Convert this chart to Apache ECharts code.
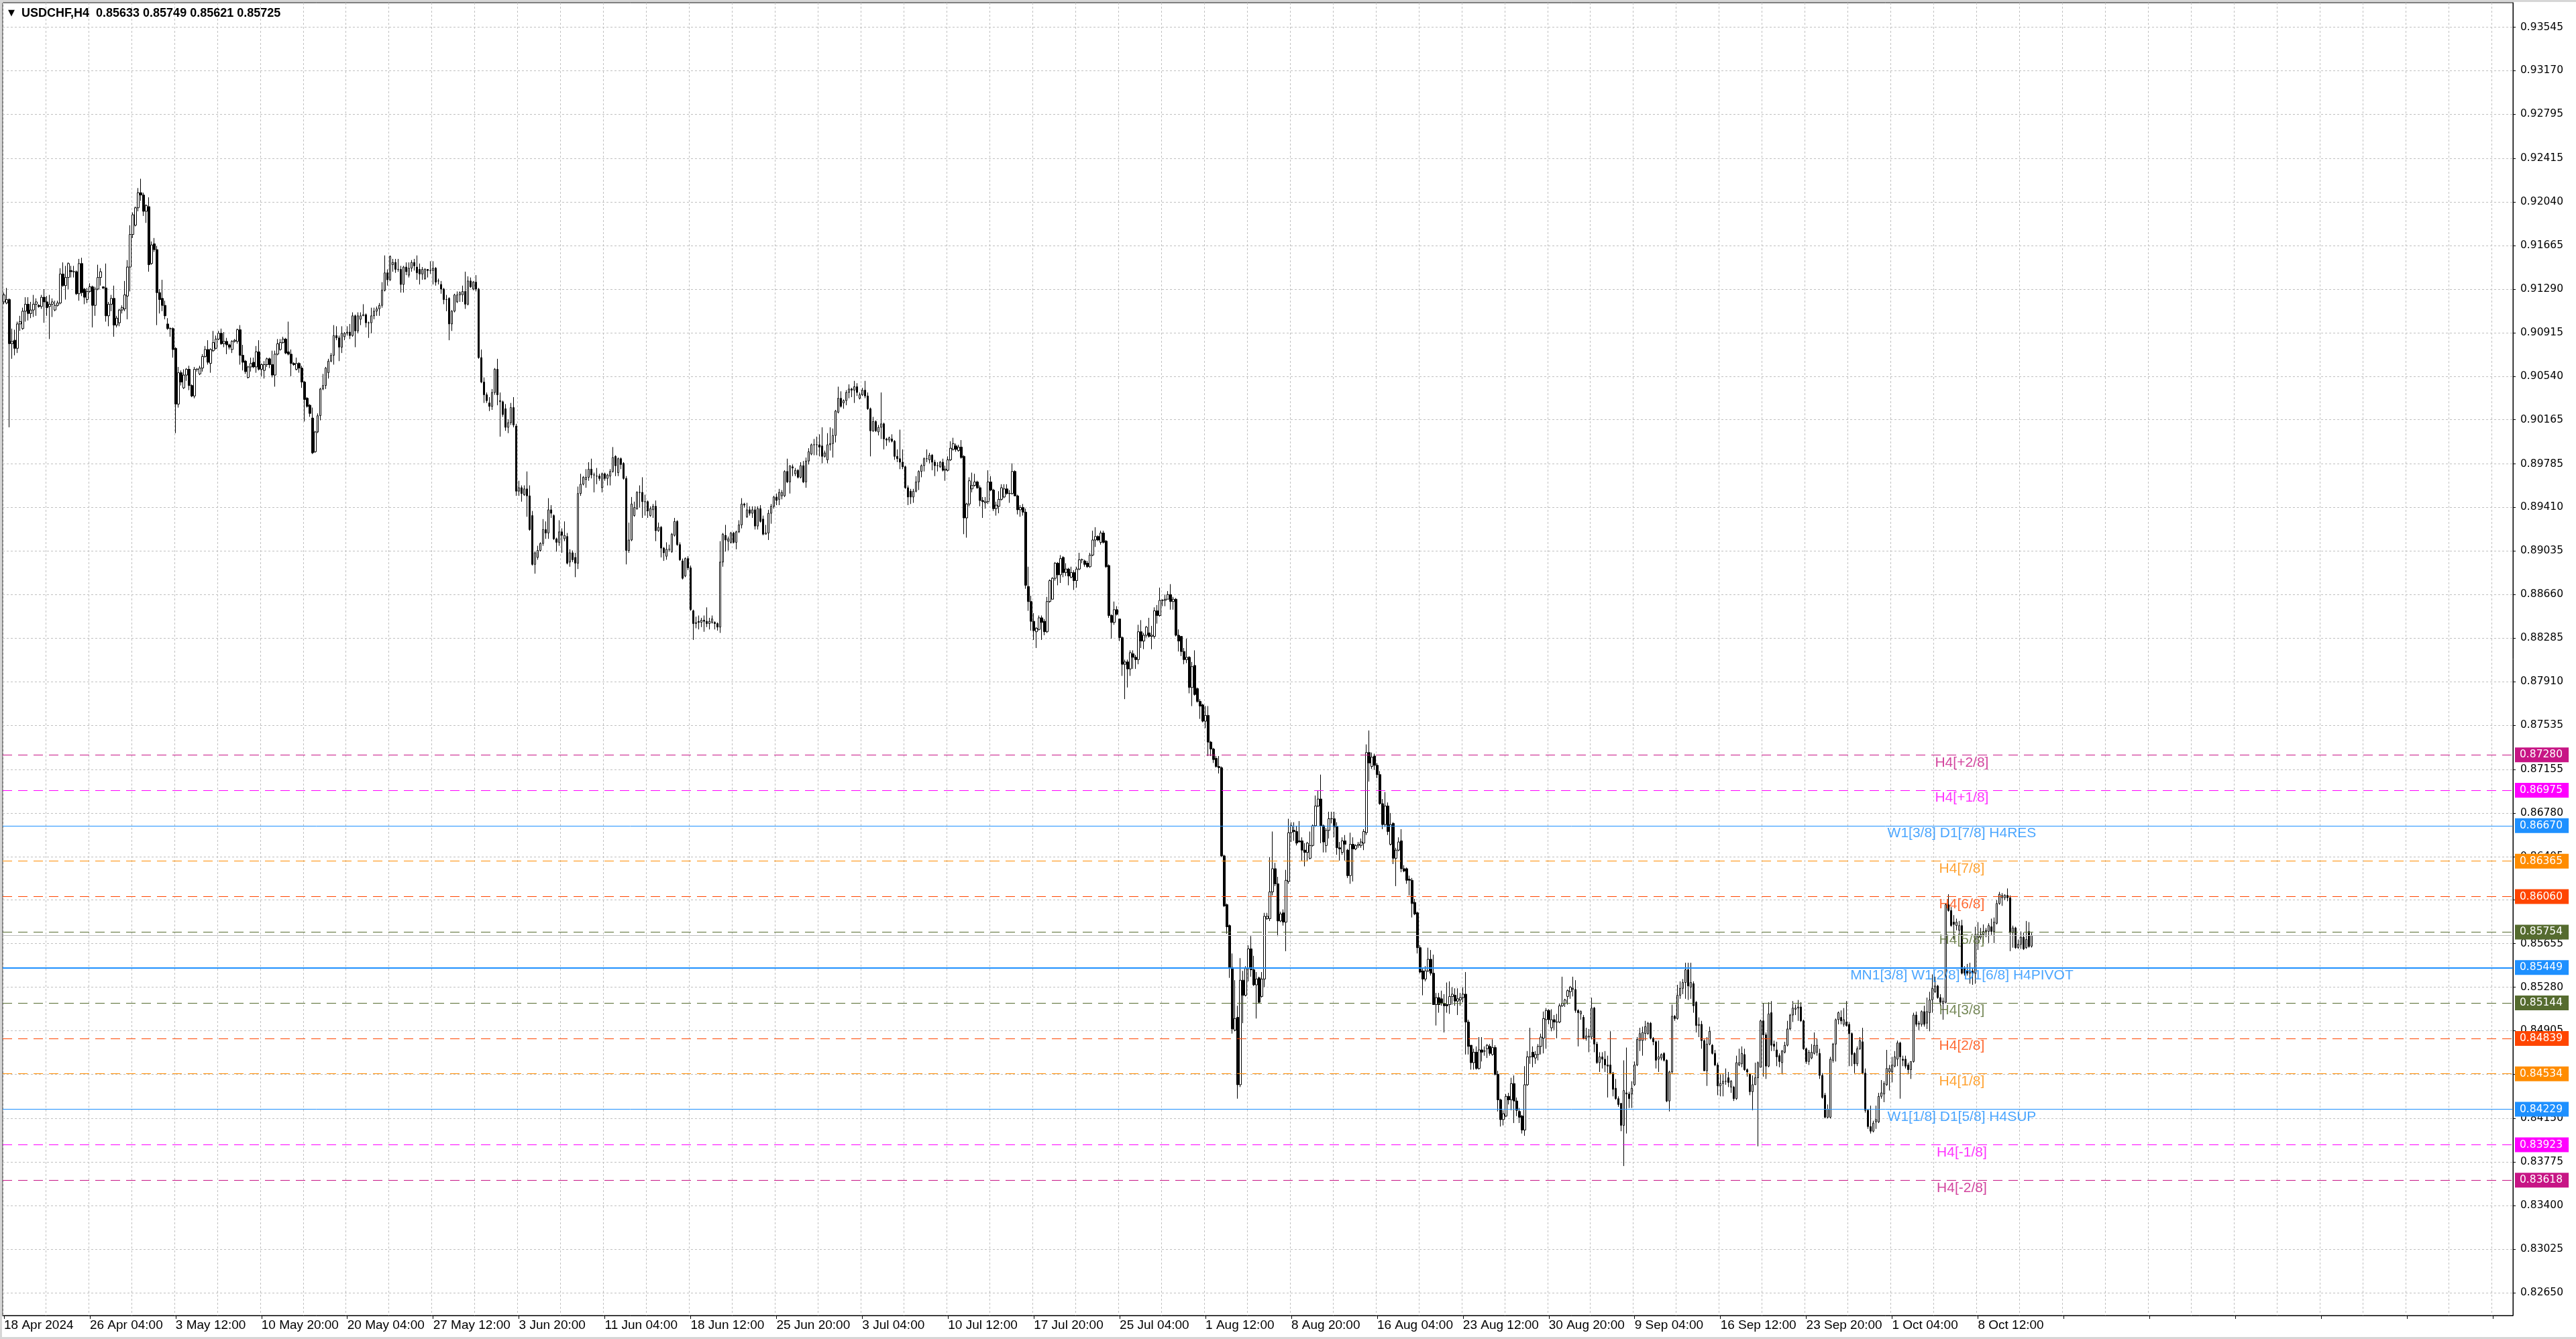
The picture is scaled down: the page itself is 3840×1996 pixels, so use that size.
<!DOCTYPE html>
<html>
<head>
<meta charset="utf-8">
<title>USDCHF,H4</title>
<script src="https://cdn.jsdelivr.net/npm/echarts@6/dist/echarts.min.js"></script>
<style>
  html, body { margin: 0; padding: 0; background: #d6d6d6; overflow: hidden; }
  #main { position: absolute; left: 3px; top: 3px; width: 3837px; height: 1990px; background: #fff; }
</style>
</head>
<body>
<div id="main"></div>
<script>
// USDCHF H4 bars, 18 Apr 2024 20:00 .. 11 Oct 2024 20:00
// each row: [open, high, low, close] in pips (x 0.0001)
var barsA = [
[9118,9126,9116,9124],[9117,9130,9116,9120],[9120,9121,9010,9082],[9082,9095,9069,9084],[9085,9094,9072,9078],
[9078,9101,9074,9099],[9099,9106,9093,9101],[9095,9113,9094,9110],[9110,9122,9101,9116],[9116,9122,9102,9108],
[9108,9118,9104,9111],[9111,9124,9105,9116],[9116,9121,9106,9118],[9115,9116,9113,9114],[9114,9124,9112,9122],
[9122,9129,9100,9118],[9118,9123,9106,9113],[9114,9124,9086,9116],[9116,9121,9105,9118],[9111,9119,9110,9115],
[9115,9119,9114,9117],[9117,9147,9116,9142],[9142,9152,9131,9132],[9132,9149,9120,9139],[9139,9152,9129,9151],
[9145,9149,9139,9144],[9144,9149,9139,9144],[9144,9145,9124,9125],[9125,9155,9119,9151],[9151,9156,9123,9126],
[9129,9130,9116,9122],[9120,9130,9117,9127],[9127,9134,9126,9131],[9131,9132,9096,9115],[9115,9131,9106,9129],
[9129,9150,9128,9139],[9139,9147,9132,9144],[9131,9131,9129,9130],[9130,9151,9101,9106],[9106,9118,9097,9116],
[9116,9124,9110,9121],[9121,9132,9088,9098],[9098,9106,9096,9104],[9100,9112,9097,9111],[9111,9115,9108,9113],
[9112,9136,9110,9124],[9123,9154,9103,9148],[9148,9184,9127,9176],[9176,9195,9173,9193],[9184,9200,9183,9199],
[9199,9216,9196,9212],[9212,9224,9205,9210],[9210,9212,9192,9196],[9196,9202,9186,9201],[9200,9208,9144,9150],
[9151,9170,9150,9167],[9168,9173,9161,9163],[9163,9166,9098,9126],[9126,9129,9108,9120],[9121,9137,9110,9115],
[9115,9119,9103,9106],[9099,9104,9094,9095],[9095,9096,9088,9095],[9095,9096,9070,9077],[9078,9079,9005,9030],
[9030,9062,9027,9057],[9057,9059,9046,9049],[9044,9060,9043,9055],[9055,9061,9050,9060],[9060,9063,9042,9046],
[9046,9047,9036,9037],[9037,9062,9035,9060],[9060,9061,9058,9060],[9056,9063,9055,9061],[9061,9073,9058,9071],
[9071,9080,9070,9077],[9077,9085,9064,9066],[9065,9078,9057,9077],[9076,9093,9075,9083],[9078,9089,9077,9086],
[9086,9093,9085,9091],[9091,9095,9081,9082],[9082,9092,9079,9084],[9084,9087,9073,9081],[9081,9082,9077,9079],
[9077,9085,9074,9084],[9084,9086,9083,9085],[9084,9095,9082,9094],[9094,9098,9064,9072],[9072,9081,9059,9066],
[9067,9068,9056,9058],[9053,9063,9052,9062],[9062,9070,9058,9065],[9066,9070,9061,9062],[9062,9080,9057,9075],
[9075,9085,9059,9060],[9060,9065,9054,9064],[9059,9067,9052,9064],[9064,9070,9062,9069],[9069,9070,9061,9064],
[9064,9076,9053,9055],[9055,9076,9045,9073],[9073,9086,9072,9082],[9077,9086,9076,9083],[9083,9088,9082,9086],
[9086,9087,9073,9074],[9075,9101,9072,9073],[9073,9077,9054,9065],[9065,9066,9063,9064],[9060,9070,9059,9065],
[9065,9066,9057,9061],[9061,9063,9044,9049],[9049,9050,9015,9034],[9035,9036,9027,9028],[9029,9030,9019,9022],
[9018,9027,8987,8988],[8989,9007,8988,9006],[9006,9022,9005,9020],[9020,9044,9016,9043],[9043,9056,9042,9046],
[9046,9062,9043,9061],[9057,9069,9052,9067],[9067,9074,9066,9072],[9072,9098,9064,9089],[9089,9097,9085,9087],
[9087,9089,9067,9079],[9079,9097,9074,9091],[9088,9092,9085,9091],[9091,9097,9089,9092]
];
var barsB = [
[9092,9099,9086,9089],[9089,9109,9088,9106],[9106,9107,9079,9093],[9093,9109,9091,9106],[9103,9109,9098,9106],
[9106,9116,9106,9107],[9107,9108,9096,9100],[9100,9101,9087,9100],[9100,9113,9091,9106],[9106,9113,9103,9110],
[9110,9114,9106,9112],[9112,9117,9106,9115],[9115,9135,9113,9128],[9128,9158,9127,9143],[9143,9146,9132,9137],
[9137,9158,9136,9157],[9150,9155,9144,9152],[9152,9155,9143,9146],[9146,9155,9144,9146],[9146,9149,9126,9133],
[9133,9149,9126,9148],[9148,9152,9141,9144],[9141,9152,9139,9147],[9147,9154,9144,9152],[9152,9155,9145,9149],
[9148,9158,9137,9143],[9146,9151,9133,9142],[9142,9148,9137,9146],[9138,9147,9137,9146],[9146,9146,9139,9145],
[9145,9153,9142,9145],[9145,9153,9133,9147],[9147,9148,9132,9135],[9136,9138,9133,9136],[9133,9136,9125,9129],
[9129,9130,9116,9120],[9120,9124,9110,9120],[9121,9122,9085,9099],[9099,9111,9093,9110],[9110,9125,9109,9124],
[9118,9127,9117,9124],[9124,9127,9118,9126],[9124,9132,9118,9127],[9127,9144,9112,9116],[9116,9140,9115,9136],
[9136,9139,9130,9131],[9129,9136,9128,9135],[9135,9141,9127,9129],[9129,9130,9069,9070],[9070,9077,9048,9049],
[9049,9053,9031,9038],[9038,9040,9031,9033],[9031,9036,9024,9028],[9028,9043,9025,9040],[9040,9061,9038,9060],
[9060,9069,9029,9038],[9032,9040,9002,9033],[9032,9033,9019,9021],[9026,9030,9007,9010],[9010,9017,9005,9014],
[9014,9031,9012,9027],[9027,9036,9010,9012],[9011,9013,8951,8955],[8955,8964,8951,8958],[8958,8960,8946,8953],
[8952,8960,8951,8957],[8957,8972,8933,8951],[8951,8960,8921,8922],[8934,8938,8891,8892],[8892,8903,8884,8902],
[8898,8908,8896,8904],[8904,8911,8903,8910],[8910,8931,8908,8922],[8922,8929,8914,8919],[8919,8949,8914,8939],
[8939,8943,8932,8936],[8934,8935,8913,8914],[8914,8915,8903,8911],[8911,8930,8908,8920],[8920,8923,8902,8917],
[8914,8929,8912,8917],[8916,8919,8892,8893],[8894,8905,8890,8902],[8902,8904,8894,8896],[8898,8902,8881,8893],
[8893,8959,8888,8953],[8953,8970,8951,8961],[8961,8968,8960,8967],[8965,8974,8958,8967],[8967,8980,8964,8974],
[8974,8983,8966,8969],[8969,8971,8954,8969],[8968,8975,8961,8968],[8968,8970,8964,8966],[8958,8971,8954,8970],
[8970,8971,8964,8966],[8966,8970,8960,8969],[8968,8974,8960,8972],[8972,8993,8971,8984],[8985,8986,8968,8977],
[8971,8984,8968,8983],[8983,8984,8974,8978],[8979,8980,8965,8966],[8966,8968,8892,8904],[8904,8928,8902,8913],
[8913,8950,8912,8944],[8934,8946,8933,8941],[8940,8955,8939,8954],[8954,8960,8941,8954],[8954,8967,8932,8946],
[8946,8952,8934,8946],[8946,8947,8932,8938],[8934,8942,8933,8940],[8939,8944,8932,8942],[8942,8947,8912,8921],
[8921,8928,8920,8924],[8924,8925,8898,8906],[8906,8907,8895,8902],[8899,8911,8896,8905],[8905,8909,8903,8905],
[8903,8919,8902,8918],[8917,8932,8916,8929],[8929,8930,8908,8909],[8909,8911,8895,8896],[8895,8897,8879,8880]
];
var barsC = [
[8882,8898,8881,8897],[8897,8899,8887,8889],[8889,8891,8852,8853],[8852,8853,8827,8841],[8841,8847,8837,8842],
[8843,8848,8836,8842],[8842,8846,8838,8844],[8844,8848,8834,8843],[8843,8855,8838,8841],[8841,8846,8836,8843],
[8842,8848,8841,8845],[8842,8843,8836,8841],[8841,8842,8835,8838],[8838,8912,8833,8894],[8894,8919,8890,8918],
[8917,8926,8903,8913],[8912,8916,8904,8914],[8911,8920,8910,8919],[8919,8920,8910,8911],[8911,8921,8905,8920],
[8920,8930,8919,8926],[8926,8949,8923,8944],[8944,8945,8941,8943],[8933,8945,8932,8939],[8939,8942,8934,8936],
[8936,8942,8932,8939],[8939,8942,8922,8925],[8925,8942,8922,8940],[8940,8943,8928,8929],[8931,8934,8917,8918],
[8918,8926,8918,8919],[8919,8939,8913,8936],[8936,8944,8927,8942],[8942,8951,8940,8950],[8950,8953,8943,8947],
[8948,8957,8943,8954],[8951,8956,8948,8954],[8951,8973,8950,8972],[8972,8983,8962,8963],[8963,8977,8953,8977],
[8976,8978,8968,8975],[8970,8975,8968,8973],[8973,8974,8966,8967],[8967,8980,8966,8977],[8977,8981,8962,8963],
[8963,8984,8958,8981],[8981,8992,8978,8989],[8987,8996,8986,8995],[8995,9000,8986,8995],[8995,9002,8986,8995],
[8995,9004,8985,8993],[8994,9010,8979,8985],[8985,8990,8984,8988],[8982,9005,8979,8995],[8995,9010,8990,8996],
[8996,9009,8984,9003],[9003,9025,8997,9024],[9023,9045,9022,9035],[9035,9041,9027,9028],[9031,9034,9026,9033],
[9033,9042,9029,9040],[9040,9047,9035,9043],[9043,9044,9036,9042],[9042,9050,9031,9045],[9045,9048,9037,9040],
[9035,9040,9034,9038],[9038,9044,9037,9042],[9042,9050,9035,9037],[9037,9040,9025,9026],[9026,9027,8985,9007],
[9007,9019,9006,9015],[9015,9016,9006,9007],[9006,9012,9003,9010],[9010,9040,9000,9013],[9013,9014,8991,9000],
[9000,9001,8994,8999],[8999,9002,8997,9001],[9000,9004,8997,8998],[8998,8999,8982,8985],[8985,8991,8980,8983],
[8983,9008,8974,8980],[8980,8991,8974,8976],[8976,8977,8957,8958],[8958,8960,8943,8950],[8955,8957,8944,8950],
[8950,8957,8945,8955],[8955,8968,8954,8963],[8963,8973,8956,8972],[8972,8978,8967,8977],[8977,8984,8972,8983],
[8983,8991,8980,8983],[8982,8988,8979,8986],[8986,8987,8973,8980],[8980,8982,8968,8977],[8977,8980,8972,8977],
[8976,8981,8975,8980],[8980,8983,8972,8973],[8973,8977,8964,8974],[8973,8985,8972,8982],[8982,8998,8981,8992],
[8991,9001,8990,8996],[8994,8996,8989,8991],[8990,8995,8989,8993],[8993,8999,8983,8984],[8985,8986,8918,8932],
[8932,8945,8915,8944],[8944,8967,8942,8964],[8957,8971,8954,8960],[8960,8970,8959,8963],[8963,8964,8957,8958],
[8958,8960,8942,8947],[8947,8950,8932,8946],[8945,8950,8940,8946],[8946,8973,8944,8963],[8963,8968,8955,8956],
[8956,8957,8938,8940],[8940,8946,8934,8943],[8942,8955,8936,8948],[8948,8961,8947,8958],[8950,8961,8949,8957],
[8957,8961,8952,8953],[8953,8956,8945,8953],[8953,8979,8952,8972],[8972,8973,8951,8951],[8951,8952,8935,8939]
];
var barsD = [
[8939,8943,8933,8941],[8941,8944,8934,8937],[8937,8940,8871,8874],[8873,8890,8852,8860],[8860,8865,8835,8843],
[8843,8850,8827,8835],[8834,8838,8820,8837],[8836,8848,8835,8846],[8846,8848,8827,8842],[8843,8845,8831,8834],
[8834,8864,8833,8860],[8860,8879,8859,8878],[8862,8881,8862,8880],[8880,8894,8878,8893],[8893,8894,8874,8883],
[8883,8900,8876,8897],[8898,8899,8881,8885],[8885,8893,8882,8888],[8888,8889,8874,8882],[8881,8890,8880,8885],
[8885,8887,8870,8878],[8878,8890,8872,8888],[8888,8902,8887,8896],[8896,8897,8893,8896],[8895,8896,8890,8892],
[8893,8895,8889,8890],[8890,8902,8889,8900],[8900,8921,8899,8913],[8913,8924,8907,8916],[8916,8917,8912,8913],
[8911,8921,8909,8919],[8919,8921,8910,8911],[8912,8913,8889,8890],[8891,8892,8846,8848],[8848,8849,8828,8842],
[8842,8860,8840,8853],[8853,8856,8848,8849],[8845,8845,8826,8829],[8829,8830,8796,8806],[8806,8810,8776,8808],
[8808,8810,8786,8802],[8802,8818,8796,8816],[8815,8818,8802,8812],[8812,8814,8802,8810],[8810,8840,8806,8834],
[8834,8844,8820,8826],[8826,8833,8819,8831],[8831,8839,8829,8838],[8833,8846,8829,8830],[8830,8839,8819,8831],
[8830,8855,8828,8852],[8852,8857,8841,8848],[8848,8872,8847,8861],[8861,8862,8856,8861],[8861,8866,8856,8862],
[8862,8869,8862,8866],[8866,8875,8853,8860],[8860,8864,8853,8862],[8862,8863,8830,8831],[8831,8836,8817,8826],
[8830,8830,8813,8817],[8817,8820,8806,8810],[8810,8828,8807,8812],[8812,8813,8781,8786],[8786,8808,8770,8804],
[8805,8818,8779,8780],[8785,8786,8773,8774],[8774,8776,8759,8770],[8771,8772,8756,8757],[8757,8770,8751,8762],
[8762,8770,8727,8739],[8739,8740,8727,8733],[8733,8734,8721,8724],[8725,8727,8717,8718],[8718,8727,8712,8717]
];
var barsE = [
[8717,8718,8640,8641],[8641,8642,8597,8598],[8599,8600,8574,8580],[8581,8582,8536,8545],[8545,8557,8488,8492],
[8491,8534,8490,8501],[8502,8512,8432,8444],[8444,8553,8442,8534],[8534,8542,8497,8521],[8521,8546,8520,8544],
[8544,8564,8533,8561],[8561,8572,8537,8543],[8543,8555,8529,8530],[8530,8541,8501,8535],[8536,8537,8514,8515],
[8520,8541,8519,8535],[8535,8592,8528,8589],[8587,8592,8586,8589],[8587,8640,8585,8610],[8610,8662,8607,8630],
[8630,8635,8615,8617],[8617,8623,8572,8585],[8585,8593,8584,8591],[8592,8595,8581,8584],[8584,8629,8559,8620],
[8619,8673,8617,8661],[8661,8670,8653,8667],[8663,8670,8654,8662],[8662,8667,8650,8652],[8654,8671,8653,8653],
[8654,8657,8637,8646],[8646,8652,8632,8644],[8644,8653,8637,8652],[8639,8662,8638,8650],[8650,8668,8649,8667],
[8667,8693,8666,8684],[8684,8697,8683,8690],[8690,8711,8652,8667],[8667,8668,8644,8653],[8650,8665,8644,8663],
[8663,8679,8656,8673],[8673,8679,8669,8673],[8673,8679,8657,8666],[8666,8670,8642,8648],[8648,8653,8637,8647],
[8644,8657,8642,8654],[8654,8659,8637,8651],[8646,8647,8622,8624],[8624,8661,8617,8651],[8651,8657,8619,8647],
[8647,8651,8646,8650],[8650,8653,8648,8651],[8650,8656,8648,8653],[8652,8664,8646,8662],[8661,8737,8659,8730],
[8730,8749,8705,8721],[8718,8730,8716,8726],[8727,8729,8715,8719],[8719,8721,8708,8711],[8711,8714,8685,8686],
[8686,8690,8664,8668],[8668,8696,8666,8684],[8684,8687,8659,8662],[8651,8678,8650,8668],[8669,8670,8634,8639],
[8639,8648,8615,8646],[8646,8657,8645,8653],[8654,8664,8627,8630],[8630,8633,8627,8628],[8630,8631,8617,8620],
[8621,8624,8607,8620],[8620,8622,8588,8600],[8601,8604,8590,8591],[8592,8593,8557,8562],[8562,8564,8540,8541],
[8542,8544,8521,8535],[8535,8546,8533,8542],[8542,8562,8541,8552],[8552,8560,8538,8540],[8540,8556,8513,8513],
[8513,8523,8495,8519],[8519,8523,8506,8513],[8518,8525,8512,8514],[8514,8522,8489,8512],[8513,8532,8506,8512],
[8513,8533,8505,8520],[8520,8528,8513,8522],[8521,8527,8512,8516],[8516,8527,8504,8518],[8517,8523,8512,8519],
[8519,8528,8515,8522],[8522,8541,8470,8498],[8498,8500,8470,8477],[8478,8478,8457,8463],[8463,8475,8457,8472],
[8472,8477,8457,8458],[8458,8485,8457,8474],[8474,8485,8464,8472],[8473,8477,8469,8473],[8475,8479,8467,8478],
[8477,8479,8469,8471],[8470,8483,8469,8476],[8476,8478,8452,8453],[8453,8456,8421,8431]
];
var barsF = [
[8431,8432,8408,8414],[8414,8422,8409,8419],[8417,8436,8416,8434],[8434,8437,8427,8431],[8431,8450,8422,8445],
[8445,8452,8411,8430],[8430,8433,8417,8422],[8421,8424,8411,8416],[8417,8418,8402,8405],[8405,8460,8400,8444],
[8444,8473,8443,8468],[8468,8493,8462,8468],[8472,8477,8459,8468],[8467,8473,8462,8470],[8470,8479,8465,8477],
[8477,8488,8470,8485],[8484,8507,8471,8501],[8500,8510,8475,8508],[8508,8509,8496,8500],[8493,8509,8490,8500],
[8500,8504,8491,8498],[8498,8505,8484,8498],[8498,8514,8497,8512],[8512,8537,8511,8514],[8514,8518,8511,8517],
[8520,8526,8513,8525],[8524,8529,8518,8528],[8526,8537,8520,8527],[8526,8534,8506,8508],[8508,8509,8477,8506],
[8505,8508,8500,8507],[8502,8504,8483,8484],[8484,8493,8482,8486],[8485,8492,8472,8486],[8485,8519,8483,8510],
[8510,8511,8472,8479],[8479,8481,8462,8463],[8463,8472,8455,8468],[8468,8472,8458,8466],[8466,8473,8455,8461],
[8461,8469,8433,8460],[8461,8490,8453,8454],[8454,8455,8434,8440],[8441,8449,8431,8432],[8432,8434,8425,8427],
[8428,8428,8404,8409],[8409,8465,8374,8439],[8437,8476,8402,8436],[8436,8438,8424,8432],[8436,8447,8424,8441],
[8444,8464,8443,8461],[8461,8485,8460,8483],[8482,8493,8473,8488],[8482,8494,8469,8489],[8488,8499,8482,8494],
[8488,8498,8487,8497],[8497,8498,8483,8484],[8484,8485,8478,8481],[8481,8482,8458,8465],[8466,8482,8455,8468],
[8467,8471,8465,8470],[8471,8472,8464,8465],[8465,8466,8429,8430],[8430,8456,8421,8455],[8455,8513,8453,8503],
[8503,8504,8499,8501],[8501,8530,8500,8521],[8521,8533,8518,8527],[8527,8535,8522,8532],[8532,8549,8518,8543],
[8543,8549,8517,8529],[8528,8549,8518,8532],[8531,8533,8506,8512],[8515,8516,8489,8495],[8495,8502,8485,8496],
[8496,8499,8475,8482],[8482,8483,8456,8456],[8456,8485,8443,8479],[8479,8494,8478,8490],[8478,8479,8470,8471],
[8471,8474,8460,8461],[8461,8463,8435,8443],[8443,8453,8434,8445],[8445,8453,8434,8447],[8447,8458,8444,8447],
[8450,8455,8442,8446],[8442,8448,8437,8447],[8442,8443,8430,8432],[8432,8469,8431,8463],[8461,8475,8460,8463],
[8462,8477,8459,8471],[8470,8475,8456,8457],[8457,8458,8451,8455],[8453,8454,8435,8438],[8438,8452,8422,8444],
[8444,8463,8444,8450],[8450,8464,8391,8463],[8459,8500,8459,8499],[8499,8514,8451,8487]
];
var barsG = [
[8487,8489,8449,8460],[8460,8515,8459,8505],[8506,8516,8473,8478],[8479,8482,8473,8477],[8474,8481,8460,8468],
[8469,8471,8459,8464],[8463,8474,8453,8473],[8472,8481,8471,8478],[8478,8499,8477,8492],[8492,8505,8491,8504],
[8504,8516,8498,8510],[8509,8513,8504,8510],[8510,8517,8499,8511],[8511,8515,8498,8499],[8499,8500,8474,8475],
[8475,8476,8462,8464],[8464,8474,8461,8472],[8467,8479,8466,8472],[8471,8489,8470,8478],[8472,8484,8469,8478],
[8471,8475,8449,8452],[8452,8454,8432,8433],[8435,8437,8415,8416],[8416,8427,8415,8423],[8416,8468,8415,8466],
[8465,8480,8463,8479],[8479,8501,8464,8500],[8500,8507,8496,8506],[8502,8508,8496,8499],[8496,8510,8494,8500],
[8498,8516,8494,8495],[8496,8498,8460,8488],[8488,8489,8460,8470],[8471,8472,8454,8462],[8462,8477,8460,8475],
[8475,8485,8474,8482],[8481,8493,8453,8454],[8454,8458,8420,8422],[8422,8423,8406,8408],[8408,8426,8402,8404],
[8404,8413,8403,8411],[8412,8426,8406,8414],[8412,8437,8411,8434],[8434,8448,8432,8437],[8436,8447,8429,8445],
[8444,8474,8443,8458],[8455,8461,8439,8458],[8455,8468,8446,8461],[8460,8473,8459,8468],[8466,8482,8460,8480],
[8480,8481,8432,8468],[8466,8469,8460,8465],[8466,8469,8458,8460],[8461,8463,8453,8457],[8457,8464,8449,8464],
[8464,8506,8463,8504],[8504,8507,8494,8496],[8496,8499,8491,8497],[8496,8508,8494,8507],[8507,8512,8494,8496],
[8497,8519,8492,8507],[8506,8524,8490,8517],[8517,8539,8506,8527],[8524,8537,8523,8529],[8529,8530,8518,8519],
[8519,8522,8512,8515],[8514,8519,8500,8516],[8515,8600,8514,8599],[8599,8608,8593,8594],[8594,8597,8580,8581],
[8584,8590,8569,8582],[8581,8587,8577,8584],[8577,8585,8573,8581],[8581,8586,8539,8540],[8544,8546,8538,8540],
[8542,8548,8538,8540],[8540,8549,8531,8542],[8542,8545,8530,8540],[8540,8580,8531,8573],[8571,8584,8560,8573],
[8571,8579,8569,8573],[8573,8582,8566,8576],[8576,8579,8571,8577],[8576,8583,8566,8581],[8580,8587,8573,8576],
[8576,8588,8566,8584],[8583,8603,8582,8600],[8600,8610,8599,8608],[8605,8609,8598,8607],[8605,8608,8603,8607],
[8607,8613,8602,8605],[8605,8607,8559,8575],[8575,8581,8562,8579],[8579,8580,8561,8562],[8562,8569,8561,8565],
[8565,8576,8561,8571],[8571,8575,8560,8561],[8562,8585,8561,8569],[8576,8584,8562,8563],[8563.3,8574.9,8562.1,8572.5]
];

var xLabels = ['18 Apr 2024','26 Apr 04:00','3 May 12:00','10 May 20:00','20 May 04:00','27 May 12:00',
  '3 Jun 20:00','11 Jun 04:00','18 Jun 12:00','25 Jun 20:00','3 Jul 04:00','10 Jul 12:00','17 Jul 20:00',
  '25 Jul 04:00','1 Aug 12:00','8 Aug 20:00','16 Aug 04:00','23 Aug 12:00','30 Aug 20:00','9 Sep 04:00',
  '16 Sep 12:00','23 Sep 20:00','1 Oct 04:00','8 Oct 12:00'];
var yTicks = [0.93545,0.93170,0.92795,0.92415,0.92040,0.91665,0.91290,0.90915,0.90540,0.90165,
  0.89785,0.89410,0.89035,0.88660,0.88285,0.87910,0.87535,0.87155,0.86780,0.86405,0.86030,
  0.85655,0.85280,0.84905,0.84530,0.84150,0.83775,0.83400,0.83025,0.82650];
var levelValues = [0.87280,0.86975,0.86670,0.86365,0.86060,0.85754,0.85449,0.85144,0.84839,0.84534,0.84229,0.83923,0.83618];
var levelNames = ['H4[+2/8]','H4[+1/8]','W1[3/8] D1[7/8] H4RES','H4[7/8]','H4[6/8]','H4[5/8]',
  'MN1[3/8] W1[2/8] D1[6/8] H4PIVOT','H4[3/8]','H4[2/8]','H4[1/8]','W1[1/8] D1[5/8] H4SUP','H4[-1/8]','H4[-2/8]'];

var bars = barsA.concat(barsB, barsC, barsD, barsE, barsF, barsG);
var SLOTS = 936;          // visible bar slots incl. the empty shift area on the right
var LABEL_BAR = 730;      // where the level captions sit
var STEP = 32;            // bars between time labels

// line styles for the levels (same order as levelValues)
var C_VR = '#C71585', C_MG = '#FF00FF', C_BL = '#1E90FF', C_OR = '#FF8C00', C_RD = '#FF4500', C_OL = '#556B2F';
var levelColor = [C_VR, C_MG, C_BL, C_OR, C_RD, C_OL, C_BL, C_OL, C_RD, C_OR, C_BL, C_MG, C_VR];
var DASH = [14, 9];

var categories = [];
for (var i = 0; i < SLOTS; i++) categories.push(String(i));

var candleData = bars.map(function (b) {
  return [b[0] / 1e4, b[3] / 1e4, b[2] / 1e4, b[1] / 1e4];
});
var last = bars[bars.length - 1];
var fmt = function (v) { return (v / 1e4).toFixed(5); };
var titleText = 'USDCHF,H4  ' + fmt(last[0]) + ' ' + fmt(last[1]) + ' ' + fmt(last[2]) + ' ' + fmt(last[3]);

var priceFont = 'DejaVu Sans';
var lineData = levelValues.map(function (v, k) {
  var solid = levelColor[k] === C_BL;
  return {
    yAxis: v,
    lineStyle: { color: levelColor[k], type: solid ? 'solid' : DASH, width: (k === 6) ? 2 : 1 },
    label: {
      show: true, position: 'end', distance: 3, formatter: v.toFixed(5),
      color: '#fff', backgroundColor: levelColor[k], padding: [4, 9, 2, 7],
      fontFamily: priceFont, fontSize: 15.5
    }
  };
});
// bid line at the last close
lineData.push({ yAxis: last[3] / 1e4, lineStyle: { color: '#C0C0C0', type: 'solid', width: 1 }, label: { show: false } });

var chart = echarts.init(document.getElementById('main'), null, { renderer: 'canvas' });
chart.setOption({
  animation: false,
  backgroundColor: '#fff',
  title: {
    left: 4, top: 3,
    text: '{tri|▼}  {t|' + titleText + '}',
    textStyle: {
      rich: {
        tri: { fontFamily: 'DejaVu Sans', fontSize: 13, color: '#000' },
        t: { fontFamily: 'Liberation Sans', fontSize: 18, color: '#000' }
      }
    }
  },
  grid: {
    left: 1, top: 1, right: 94, bottom: 32,
    show: true, borderColor: '#000', borderWidth: 1,
    outerBoundsMode: 'none'
  },
  xAxis: {
    type: 'category', data: categories, boundaryGap: true,
    axisLine: { lineStyle: { color: '#000', width: 1 } },
    axisTick: { show: true, interval: STEP - 1, alignWithLabel: true, length: 5, lineStyle: { color: '#000' } },
    axisLabel: {
      interval: STEP - 1, align: 'left', margin: 5,
      fontFamily: 'Liberation Sans', fontSize: 19, color: '#000',
      formatter: function (val, idx) { var k = idx / STEP; return xLabels[k] || ''; }
    },
    splitLine: { show: true, interval: 15, lineStyle: { color: '#C0C0C0', type: [3, 3], width: 1 } }
  },
  yAxis: {
    type: 'value', position: 'right', scale: true,
    min: 0.82453, max: 0.93756,
    axisLine: { show: true, lineStyle: { color: '#000', width: 1 } },
    axisTick: { show: true, length: 4, customValues: yTicks, lineStyle: { color: '#000' } },
    axisLabel: {
      customValues: yTicks, margin: 11, fontFamily: priceFont, fontSize: 15.5, color: '#000',
      formatter: function (v) { return v.toFixed(5); }
    },
    splitLine: { show: true, lineStyle: { color: '#C0C0C0', type: [3, 3], width: 1 } }
  },
  series: [
    {
      name: 'levels', type: 'scatter', z: 1, silent: true, symbolSize: 0,
      data: [[LABEL_BAR, levelValues[0]]],
      markLine: { silent: true, symbol: ['none', 'none'], precision: 5, data: lineData }
    },
    {
      name: 'USDCHF', type: 'candlestick', z: 2, large: false, barWidth: 3,
      data: candleData,
      itemStyle: {
        color: '#fff', color0: '#000',
        borderColor: '#000', borderColor0: '#000', borderColorDoji: '#000', borderWidth: 1
      }
    },
    {
      name: 'captions', type: 'scatter', z: 3, silent: true, symbolSize: 0,
      data: levelValues.map(function (v, k) {
        return { value: [LABEL_BAR, v], label: { color: levelColor[k] } };
      }),
      label: {
        show: true, position: 'bottom', distance: 1,
        fontFamily: 'Liberation Sans', fontSize: 21,
        formatter: function (p) { return levelNames[p.dataIndex]; }
      }
    }
  ]
});
</script>
</body>
</html>
